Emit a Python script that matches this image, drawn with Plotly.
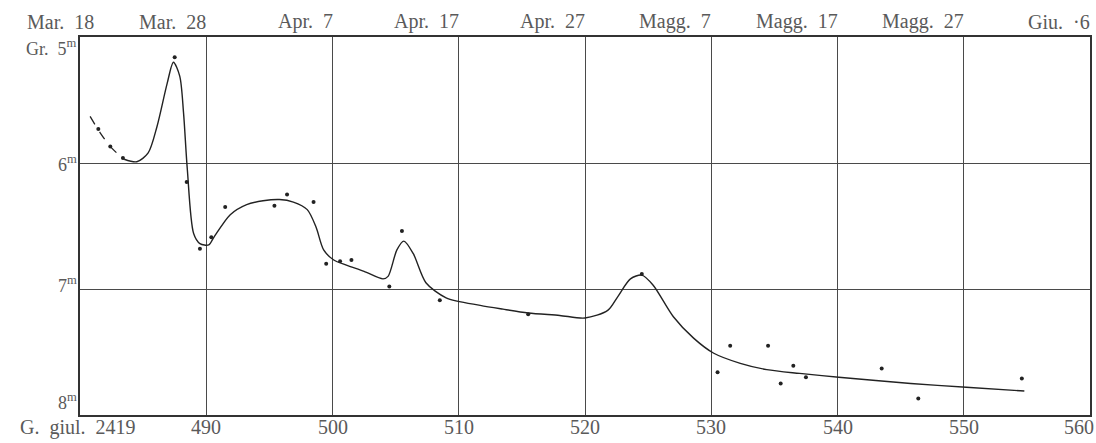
import plotly.graph_objects as go

# Observations (Julian day - 2419000, magnitude)
obs_day = [481.45, 482.4, 483.4, 487.5, 488.45, 489.5, 490.4, 491.5, 495.4, 496.4, 498.5,
           499.5, 500.6, 501.5, 504.5, 505.5, 508.5, 515.5, 524.5, 530.5, 531.5, 534.5,
           535.5, 536.5, 537.5, 543.5, 546.4, 554.6]
obs_mag = [5.73, 5.87, 5.96, 5.16, 6.15, 6.68, 6.59, 6.35, 6.34, 6.25, 6.31,
           6.80, 6.78, 6.77, 6.98, 6.54, 7.09, 7.20, 6.88, 7.66, 7.45, 7.45,
           7.75, 7.61, 7.70, 7.63, 7.87, 7.71]

# Drawn curve: dashed start
dash_day = [480.8, 481.6, 482.5, 483.5]
dash_mag = [5.63, 5.76, 5.88, 5.97]

# Drawn curve: solid part
curve_day = [483.5, 484.5, 485.4, 486.1, 486.9, 487.4, 487.9, 488.2, 488.5, 489.0, 489.5,
             490.2, 490.6, 491.9, 493.2, 494.5, 495.8, 496.9, 498.0, 498.7, 499.3, 500.1,
             501.1, 502.5, 504.0, 504.4, 505.1, 505.65, 506.4, 507.4, 509.0, 511.7, 513.5,
             515.5, 518.0, 520.0, 521.8, 522.6, 523.6, 524.5, 525.4, 527.0, 528.6, 530.2,
             532.3, 534.4, 537.0, 540.1, 545.8, 550.2, 554.8]
curve_mag = [5.97, 5.99, 5.92, 5.71, 5.37, 5.20, 5.31, 5.60, 6.05, 6.56, 6.64,
             6.65, 6.59, 6.41, 6.33, 6.30, 6.29, 6.31, 6.37, 6.51, 6.69, 6.77,
             6.81, 6.86, 6.92, 6.90, 6.69, 6.62, 6.72, 6.95, 7.07, 7.13, 7.16,
             7.19, 7.21, 7.23, 7.17, 7.06, 6.92, 6.89, 6.97, 7.22, 7.39, 7.51,
             7.59, 7.64, 7.67, 7.70, 7.75, 7.78, 7.81]

# Axis labels
jd_ticks = [480, 490, 500, 510, 520, 530, 540, 550, 560]
jd_labels = ["G. giul. 2419", "490", "500", "510", "520", "530", "540", "550", "560"]
date_labels = ["Mar. 18", "Mar. 28", "Apr. 7", "Apr. 17", "Apr. 27", "Magg. 7",
               "Magg. 17", "Magg. 27", "Giu. ·6"]
mag_ticks = [5, 6, 7, 8]
mag_labels = ["Gr. 5<sup>m</sup>", "6<sup>m</sup>", "7<sup>m</sup>", "8<sup>m</sup>"]

FONT = "Liberation Serif, DejaVu Serif, serif"
TXT = "#5a5a5a"
GRID = "#4a4a4a"


def spaced(s):
    return s.replace(" ", "\u00a0\u00a0")


fig = go.Figure()
fig.add_trace(go.Scatter(x=dash_day, y=dash_mag, mode="lines",
                         line=dict(color="#222", width=1.3, dash="dash", shape="spline"),
                         hoverinfo="skip", showlegend=False))
fig.add_trace(go.Scatter(x=curve_day, y=curve_mag, mode="lines",
                         line=dict(color="#222", width=1.4, shape="spline", smoothing=0.8),
                         hoverinfo="skip", showlegend=False))
fig.add_trace(go.Scatter(x=obs_day, y=obs_mag, mode="markers",
                         marker=dict(color="#222", size=4), showlegend=False))

n = len(jd_ticks)
# top calendar dates (right aligned to their grid lines)
for i, (d, lab) in enumerate(zip(jd_ticks, date_labels)):
    fig.add_annotation(x=d, y=1, xref="x", yref="paper", text=spaced(lab), showarrow=False,
                       xanchor="center" if i == 0 else "right", yanchor="bottom",
                       xshift=-20 if i == 0 else 2, yshift=2,
                       font=dict(family=FONT, size=20, color=TXT))
# bottom julian days
for i, (d, lab) in enumerate(zip(jd_ticks, jd_labels)):
    fig.add_annotation(x=d, y=0, xref="x", yref="paper", text=spaced(lab) if i == 0 else lab,
                       showarrow=False,
                       xanchor="right" if i == n - 1 else "center", yanchor="top",
                       xshift=-2 if i == 0 else (6 if i == n - 1 else 0), yshift=1,
                       font=dict(family=FONT, size=20, color=TXT))
# left magnitudes
for i, (m, lab) in enumerate(zip(mag_ticks, mag_labels)):
    ya = "top" if i == 0 else ("bottom" if i == len(mag_ticks) - 1 else "middle")
    fig.add_annotation(x=0, y=m, xref="paper", yref="y", text=spaced(lab), showarrow=False,
                       xanchor="right", yanchor=ya, xshift=-1,
                       yshift=(3 if i == 0 else 0) if ya != "middle" else (5 if m == 7 else 0),
                       font=dict(family=FONT, size=18, color=TXT))

fig.update_xaxes(range=[480, 560], tickvals=jd_ticks, showticklabels=False,
                 showgrid=True, gridcolor=GRID, gridwidth=1,
                 showline=True, linecolor="#333", linewidth=1.5, mirror=True,
                 ticks="", zeroline=False, automargin=False)
fig.update_yaxes(range=[8, 5], tickvals=mag_ticks, showticklabels=False,
                 showgrid=True, gridcolor=GRID, gridwidth=1,
                 showline=True, linecolor="#333", linewidth=1.5, mirror=True,
                 ticks="", zeroline=False, automargin=False)

fig.update_layout(width=1096, height=443, margin=dict(l=80, r=6, t=37, b=28),
                  paper_bgcolor="white", plot_bgcolor="white")
fig.write_html("out.html", config={"displayModeBar": False},
               post_script="document.body.style.margin='0';document.body.style.overflow='hidden';")
